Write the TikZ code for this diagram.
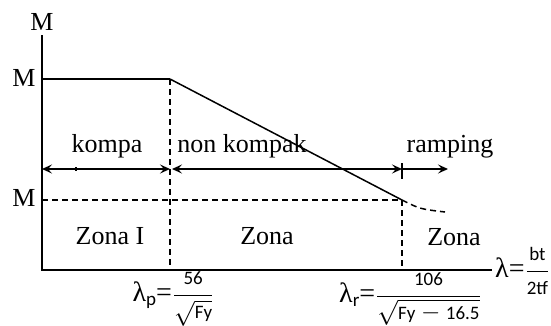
\documentclass[tikz,border=0pt]{standalone}
\usepackage{fontspec}
\setmainfont{Liberation Serif}
\newfontfamily\calib{Carlito}
\usetikzlibrary{arrows.meta}
\tikzset{
  lbl/.style={font=\fontsize{26}{30}\selectfont, inner sep=0pt},
  axisline/.style={line width=2.4pt},
  curveline/.style={line width=1.5pt},
  dashline/.style={line width=1.5pt, dash pattern=on 6pt off 4pt},
  dimarrow/.style={line width=2pt, {Stealth[length=10pt,width=9pt,inset=4pt]}-{Stealth[length=10pt,width=9pt,inset=4pt]}},
  onearrow/.style={line width=2pt, -{Stealth[length=10pt,width=9pt,inset=4pt]}},
  formula/.style={inner sep=0pt, font=\fontsize{28}{30}\selectfont}
}
\newcommand{\fs}[1]{\mbox{\calib\fontsize{19}{21}\selectfont #1}}
\newcommand{\subl}[1]{\raisebox{-4pt}{\calib\fontsize{19}{21}\selectfont #1}}
\begin{document}
\begin{tikzpicture}[x=1pt,y=-1pt]
\useasboundingbox (0,0) rectangle (551,325);
% key points
\coordinate (O) at (42,270);
\coordinate (ytop) at (42,35);
\coordinate (xend) at (492,270);
\coordinate (Mp) at (42,79);
\coordinate (P) at (170,79);
\coordinate (R) at (402,200);
\coordinate (Mr) at (42,200);
\coordinate (Pb) at (170,270);
\coordinate (Rb) at (402,270);
\coordinate (A0) at (42,169);
\coordinate (A1) at (170,169);
\coordinate (A2) at (172,169);
\coordinate (A3) at (402,169);
\coordinate (A4) at (448,169);
\coordinate (T1) at (402,163);
\coordinate (T2) at (402,179);
\coordinate (K1) at (76,167);
\coordinate (K2) at (76,171);
\coordinate (C1) at (445,212);
% axes
\draw[axisline] (ytop) -- (O) -- (xend);
% curve
\draw[line width=2pt] (Mp) -- (P);
\draw[curveline] (P) -- (R);
\draw[dashline] (P) -- (Pb);
\draw[dashline] (R) -- (Rb);
\draw[dashline] (Mr) -- (R);
\draw[dashline] (R) .. controls (420,209) .. (C1);
% arrows
\draw[dimarrow] (A0) -- (A1);
\draw[dimarrow] (A2) -- (A3);
\draw[onearrow] (A3) -- (A4);
\draw[line width=1.5pt] (T1) -- (T2);
\draw[line width=2pt] (K1) -- (K2);
% labels
\node[lbl] (mtop) at (42,22) {M};
\node[lbl] (mp) at (24,78) {M};
\node[lbl] (mr) at (24,198) {M};
\node[lbl] (kompa) at (107,146) {kompa};
\node[lbl] (nonk) at (242,146) {non kompak};
\node[lbl] (ramp) at (450,147) {ramping};
\node[lbl] (z1) at (110,236) {Zona I};
\node[lbl] (z2) at (267,236) {Zona};
\node[lbl] (z3) at (454,237) {Zona};
\node[formula] (lp) at (173,299) {λ\subl{p}=\kern1pt$\displaystyle\frac{\fs{56}}{\sqrt{\fs{Fy}}}$};
\node[formula] (lr) at (410,299) {λ\subl{r}=\kern1pt$\displaystyle\frac{\fs{106}}{\sqrt{\fs{Fy}-\fs{16.5}}}$};
\node[formula, anchor=west] (lx) at (495,271) {λ=\kern1pt$\displaystyle\frac{\fs{bt}}{\fs{2tf}}$};
\end{tikzpicture}
\end{document}
